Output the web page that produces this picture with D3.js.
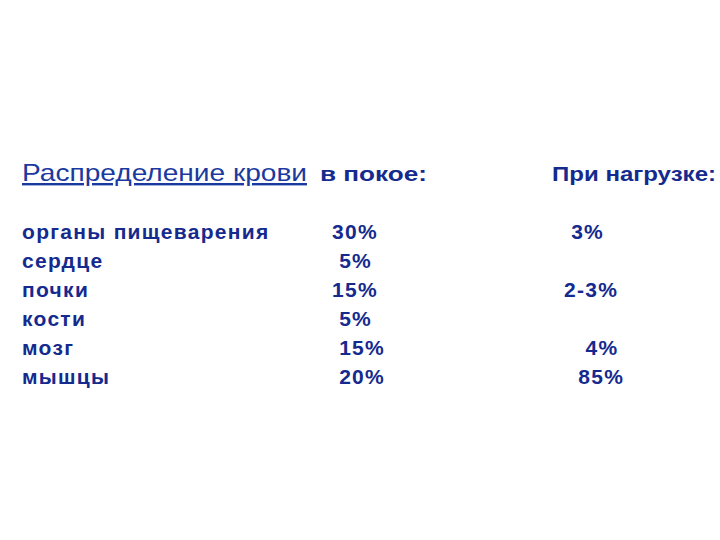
<!DOCTYPE html>
<html><head><meta charset="utf-8">
<script src="https://cdn.jsdelivr.net/npm/d3@7"></script>
<style>body{margin:0;background:#fff}text{white-space:pre;font-family:Arial,"Liberation Sans",sans-serif}</style>
</head><body><div id="plot"></div>
<script>
// Table content
var title = "Распределение крови";
var headers = ["в покое:", "При нагрузке:"];
var organs = ["органы пищеварения", "сердце", "почки", "кости", "мозг", "мышцы"];
var restValues = ["30%", " 5%", "15%", " 5%", " 15%", " 20%"];
var loadValues = [" 3%", "", "2-3%", "", "   4%", "  85%"];

var svgWidth = 720, svgHeight = 540;
var color = "#152a8e";

var svg = d3.select("#plot").append("svg")
  .attr("width", svgWidth).attr("height", svgHeight);

// column and row scales
var x = d3.scaleOrdinal().domain(["organ", "rest", "load"]).range([22, 332, 564]);
var y = d3.scalePoint().domain(d3.range(organs.length)).range([239, 384]);

svg.append("text").attr("x", 22).attr("y", 181)
  .attr("font-size", 24).attr("fill", "#1a3aa0")
  .attr("text-decoration", "underline")
  .attr("textLength", 285).attr("lengthAdjust", "spacingAndGlyphs")
  .text(title);

svg.append("text").attr("x", 320).attr("y", 181)
  .attr("font-size", 21).attr("font-weight", "bold").attr("fill", color)
  .attr("textLength", 107).attr("lengthAdjust", "spacingAndGlyphs")
  .text(headers[0]);
svg.append("text").attr("x", 552).attr("y", 181)
  .attr("font-size", 21).attr("font-weight", "bold").attr("fill", color)
  .attr("textLength", 164).attr("lengthAdjust", "spacingAndGlyphs")
  .text(headers[1]);

var rows = svg.selectAll(".row").data(organs).enter().append("g").attr("class", "row")
  .attr("font-size", 21).attr("font-weight", "bold").attr("fill", color)
  .attr("letter-spacing", 1.3);

rows.append("text").attr("x", x("organ")).attr("y", (d, i) => y(i)).text(d => d);
rows.append("text").attr("x", x("rest")).attr("y", (d, i) => y(i)).text((d, i) => restValues[i]);
rows.append("text").attr("x", x("load")).attr("y", (d, i) => y(i)).text((d, i) => loadValues[i]);
</script>
</body></html>
